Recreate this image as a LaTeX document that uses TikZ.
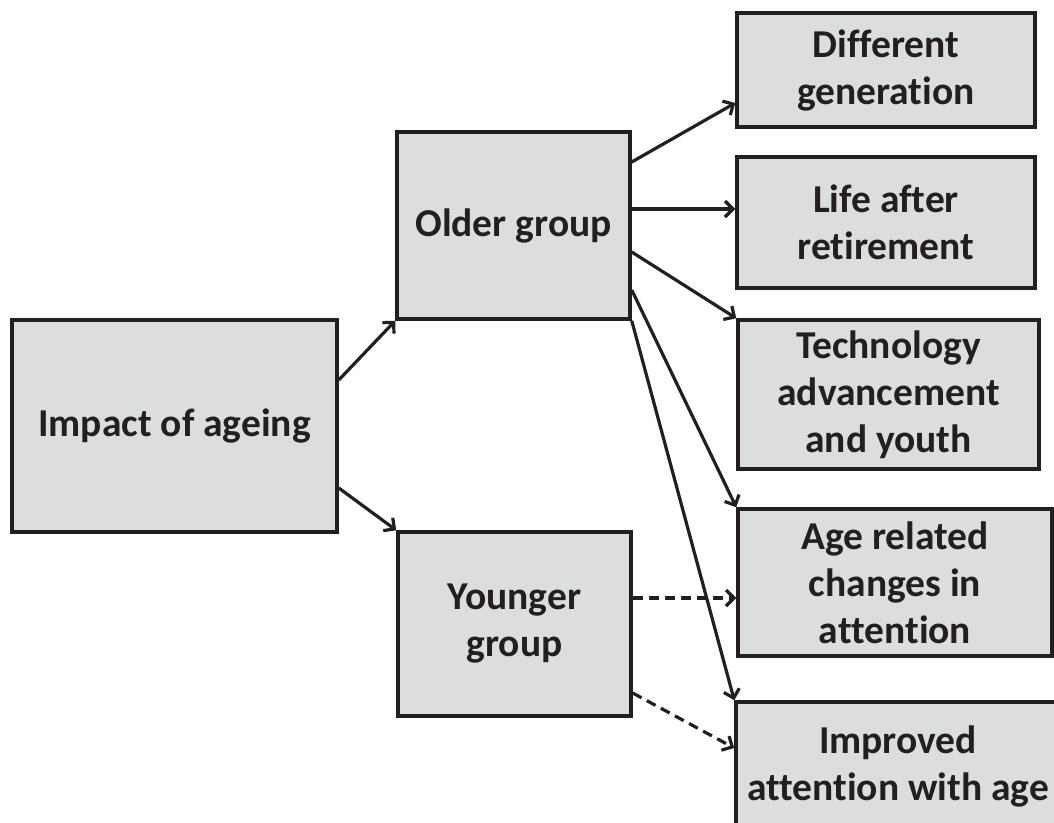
\documentclass[tikz,border=0pt]{standalone}
\usepackage{fontspec}
\setmainfont{Carlito}[Ligatures=NoCommon]
\usetikzlibrary{arrows.meta}
\definecolor{boxfill}{RGB}{220,221,223}
\definecolor{ink}{RGB}{35,31,32}
\begin{document}
\begin{tikzpicture}[x=1pt,y=-1pt,
        box/.style={draw=ink,fill=boxfill,line width=3.5pt,rectangle,inner sep=0pt,
          align=center,text=ink,font=\fontsize{39.5}{47}\selectfont\bfseries},
        link/.style={draw=ink,line width=3.2pt,-{Straight Barb[length=8pt,width=16pt]}},
        dlink/.style={link,dash pattern=on 10pt off 6pt}]
        \clip (0,0) rectangle (1054,822);
        \fill [white] (0,0) rectangle (1054,822);
        \node [box,minimum width=325pt,minimum height=212pt] (impact) at (174.5,426) {Impact of ageing};
        \node [box,minimum width=233pt,minimum height=187pt] (older) at (513.5,225.5) {Older group};
        \node [box,minimum width=233pt,minimum height=184pt] (younger) at (514.5,624) {Younger\\group};
        \node [box,minimum width=298pt,minimum height=114pt] (diffgen) at (886,70) {Different\\generation};
        \node [box,minimum width=298pt,minimum height=131pt] (life) at (886,222.5) {Life after\\retirement};
        \node [box,minimum width=301pt,minimum height=149pt] (tech) at (888.5,394.5) {Technology\\advancement\\and youth};
        \node [box,minimum width=314pt,minimum height=147pt] (agerel) at (895,582.5) {Age related\\changes in\\attention};
        \node [box,minimum width=324pt,minimum height=128pt] (improved) at (898,766) {Improved\\attention with age};
        \draw [link] ([yshift=46pt]impact.east) -- (older.south west);
        \draw [link] ([yshift=-62pt]impact.east) -- (younger.north west);
        \draw [link] ([yshift=63.5pt]older.east) -- ([yshift=-33pt]diffgen.west);
        \draw [link] ([yshift=16.5pt]older.east) -- ([yshift=13.5pt]life.west);
        \draw [link] ([yshift=-26.5pt]older.east) -- (tech.north west);
        \draw [link] ([yshift=-64.5pt]older.east) -- (agerel.north west);
        \draw [link] (older.south east) -- (improved.north west);
        \draw [dlink] ([yshift=26pt]younger.east) -- ([yshift=-15.5pt]agerel.west);
        \draw [dlink] ([yshift=-69pt]younger.east) -- ([yshift=18pt]improved.west);
\end{tikzpicture}
\end{document}
